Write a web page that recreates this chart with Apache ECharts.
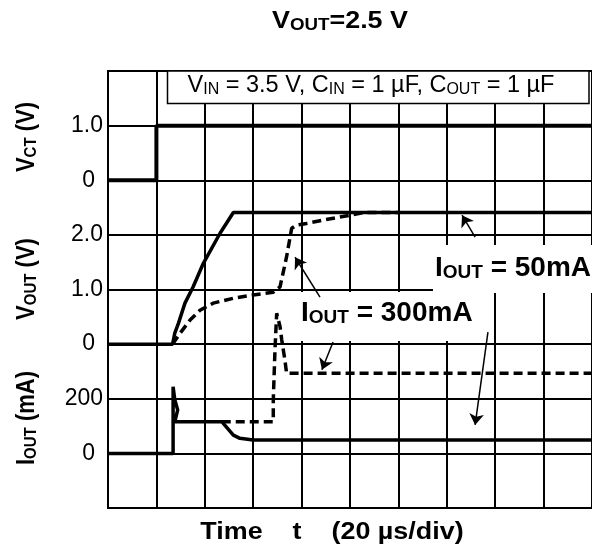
<!DOCTYPE html>
<html><head><meta charset="utf-8">
<script src="https://cdn.jsdelivr.net/npm/echarts@6/dist/echarts.min.js"></script>
<style>html,body{margin:0;padding:0;background:#fff}#c{width:592px;height:552px}</style>
</head><body><div id="c"></div>
<script>
// ---- data (time in µs, 20 µs/div) ----
const vctTime = [0, 20, 20, 200];
const vctVolt = [0, 0, 1.0, 1.0];

const vout50Time = [0, 26.7, 27.6, 29.1, 31.8, 35.2, 39.4, 46.3, 51.8, 200];
const vout50Volt = [0, 0, 0.2, 0.38, 0.75, 1.05, 1.48, 2.03, 2.41, 2.41];

const vout300Time = [26.7, 29.8, 33.9, 38.0, 43.5, 51.8, 60.0, 68.3, 71.1, 73.8, 75.9, 78.0, 82.1, 88.9, 100, 106, 120];
const vout300Volt = [0, 0.2, 0.44, 0.62, 0.75, 0.84, 0.90, 0.95, 1.05, 1.6, 2.12, 2.18, 2.21, 2.27, 2.36, 2.41, 2.41];

const iout50Time = [0, 26.9, 26.9, 27.6, 28.8, 28.0, 27.6, 47.0, 51.8, 54.5, 60.0, 200];
const iout50mA   = [0, 0, 244, 196, 159, 130, 116, 116, 67, 55, 49, 49];

const iout300Time = [47.0, 68.3, 68.3, 69.0, 69.7, 71.1, 71.8, 73.1, 73.8, 200];
const iout300mA   = [116, 116, 196, 379, 513, 464, 415, 342, 293, 293];

const vctTickValues = [0, 1.0];
const vctTickLabels = ['0', '1.0'];
const voutTickValues = [0, 1.0, 2.0];
const voutTickLabels = ['0', '1.0', '2.0'];
const ioutTickValues = [0, 200];
const ioutTickLabels = ['0', '200'];

// annotation arrows [tStart, vStart, tEnd, vEnd] on the VOUT scale
const arrowLines = [
  [151.7, 1.96, 146.3, 2.36],
  [157.0, 0.22, 151.7, -1.48],
  [87.6, 0.86, 77.3, 1.59],
  [93.0, 0.04, 88.4, -0.47]
];

// ---- chart ----
const FONT = '"Liberation Sans", Arial, Helvetica, sans-serif';
const pair = (ts, vs) => ts.map((t, i) => [t, vs[i]]);
function tickFmt(values, labels) {
  return function (v) {
    for (let k = 0; k < values.length; k++) {
      if (Math.abs(v - values[k]) < 1e-6) return labels[k] === '0' ? '{z|0}' : labels[k];
    }
    return '';
  };
}
const labelStyle = (values, labels) => ({
  formatter: tickFmt(values, labels), fontSize: 23, color: '#000', fontFamily: FONT, margin: 5,
  showMinLabel: true, showMaxLabel: true,
  rich: { z: { padding: [0, 8, 0, 0], fontSize: 23, fontFamily: FONT, color: '#000' } }
});
const yBase = {
  type: 'value', position: 'left', offset: 0,
  axisLine: { show: false }, axisTick: { show: false },
  splitLine: { show: false }
};
const lineBase = { type: 'line', symbol: 'none', animation: false, silent: true };

const chart = echarts.init(document.getElementById('c'));
const subRich = (big, small, weight) => ({
  a: { fontSize: big, fontWeight: weight, fontFamily: FONT, color: '#000', verticalAlign: 'bottom' },
  b: { fontSize: small, fontWeight: weight, fontFamily: FONT, color: '#000', verticalAlign: 'bottom' }
});

chart.setOption({
  animation: false,
  backgroundColor: '#fff',
  grid: { left: 108, top: 71, width: 484, height: 437, show: true, borderColor: '#000', borderWidth: 2, backgroundColor: 'transparent' },
  xAxis: {
    type: 'value', min: 0, max: 200, interval: 20,
    axisLabel: { show: false }, axisTick: { show: false }, axisLine: { show: false },
    splitLine: { show: true, lineStyle: { color: '#000', width: 2 } }
  },
  yAxis: [
    Object.assign({}, yBase, { min: -6, max: 2, interval: 1, axisLabel: labelStyle(vctTickValues, vctTickLabels) }),
    Object.assign({}, yBase, { min: -3, max: 5, interval: 1, axisLabel: labelStyle(voutTickValues, voutTickLabels) }),
    Object.assign({}, yBase, { min: -200, max: 1400, interval: 200, axisLabel: labelStyle(ioutTickValues, ioutTickLabels),
      splitLine: { show: true, lineStyle: { color: '#000', width: 2 } } })
  ],
  series: [
    Object.assign({}, lineBase, { name: 'VOUT 300mA', yAxisIndex: 1, data: pair(vout300Time, vout300Volt),
      lineStyle: { color: '#000', width: 3.5, type: [9, 5] } }),
    Object.assign({}, lineBase, { name: 'IOUT 300mA', yAxisIndex: 2, data: pair(iout300Time, iout300mA),
      lineStyle: { color: '#000', width: 3.5, type: [9, 5] } }),
    Object.assign({}, lineBase, { name: 'VCT', yAxisIndex: 0, data: pair(vctTime, vctVolt),
      lineStyle: { color: '#000', width: 4 } }),
    Object.assign({}, lineBase, { name: 'VOUT 50mA', yAxisIndex: 1, data: pair(vout50Time, vout50Volt),
      lineStyle: { color: '#000', width: 3.5 },
      markLine: {
        silent: true, animation: false, symbol: ['none', 'arrow'], symbolSize: 11,
        label: { show: false },
        lineStyle: { color: '#000', width: 1.5, type: 'solid' },
        data: arrowLines.map(a => [{ coord: [a[0], a[1]] }, { coord: [a[2], a[3]] }])
      } }),
    Object.assign({}, lineBase, { name: 'IOUT 50mA', yAxisIndex: 2, data: pair(iout50Time, iout50mA),
      lineStyle: { color: '#000', width: 3.5 } })
  ],
  graphic: { elements: [
    { type: 'text', x: 340, y: 22, scaleX: 1.17, z: 5,
      style: { text: '{a|V}{b|OUT}{a|=2.5 V}', align: 'center', verticalAlign: 'middle', rich: subRich(23, 16, 'bold') } },
    { type: 'rect', z: 1, shape: { x: 167.5, y: 71, width: 421.5, height: 32.5 },
      style: { fill: '#fff', stroke: '#000', lineWidth: 1.5 } },
    { type: 'text', x: 371, y: 86, z: 5,
      style: { text: '{a|V}{b|IN}{a| = 3.5 V, C}{b|IN}{a| = 1 µF, C}{b|OUT}{a| = 1 µF}', align: 'center', verticalAlign: 'middle', rich: subRich(23.5, 16, 'normal') } },
    { type: 'rect', z: 1, shape: { x: 433, y: 245, width: 160, height: 48 }, style: { fill: '#fff' } },
    { type: 'text', x: 435, y: 268, z: 5,
      style: { text: '{a|I}{b|OUT}{a| = 50mA}', align: 'left', verticalAlign: 'middle', rich: subRich(28, 19, 'bold') } },
    { type: 'rect', z: 1, shape: { x: 294, y: 292, width: 196, height: 49 }, style: { fill: '#fff' } },
    { type: 'text', x: 301, y: 313, z: 5,
      style: { text: '{a|I}{b|OUT}{a| = 300mA}', align: 'left', verticalAlign: 'middle', rich: subRich(28, 19, 'bold') } },
    { type: 'text', x: 27, y: 137, rotation: Math.PI / 2, scaleY: 1.15, z: 5,
      style: { text: '{a|V}{b|CT}{a| (V)}', align: 'center', verticalAlign: 'middle', rich: subRich(22, 15, 'bold') } },
    { type: 'text', x: 27, y: 279, rotation: Math.PI / 2, scaleY: 1.15, z: 5,
      style: { text: '{a|V}{b|OUT}{a| (V)}', align: 'center', verticalAlign: 'middle', rich: subRich(22, 15, 'bold') } },
    { type: 'text', x: 27, y: 418, rotation: Math.PI / 2, scaleY: 1.15, z: 5,
      style: { text: '{a|I}{b|OUT}{a| (mA)}', align: 'center', verticalAlign: 'middle', rich: subRich(22, 15, 'bold') } },
    { type: 'text', x: 332, y: 533, scaleX: 1.17, z: 5,
      style: { text: 'Time    t    (20 µs/div)', align: 'center', verticalAlign: 'middle',
        font: 'bold 23px ' + FONT, fill: '#000' } }
  ] }
});
</script>
</body></html>
